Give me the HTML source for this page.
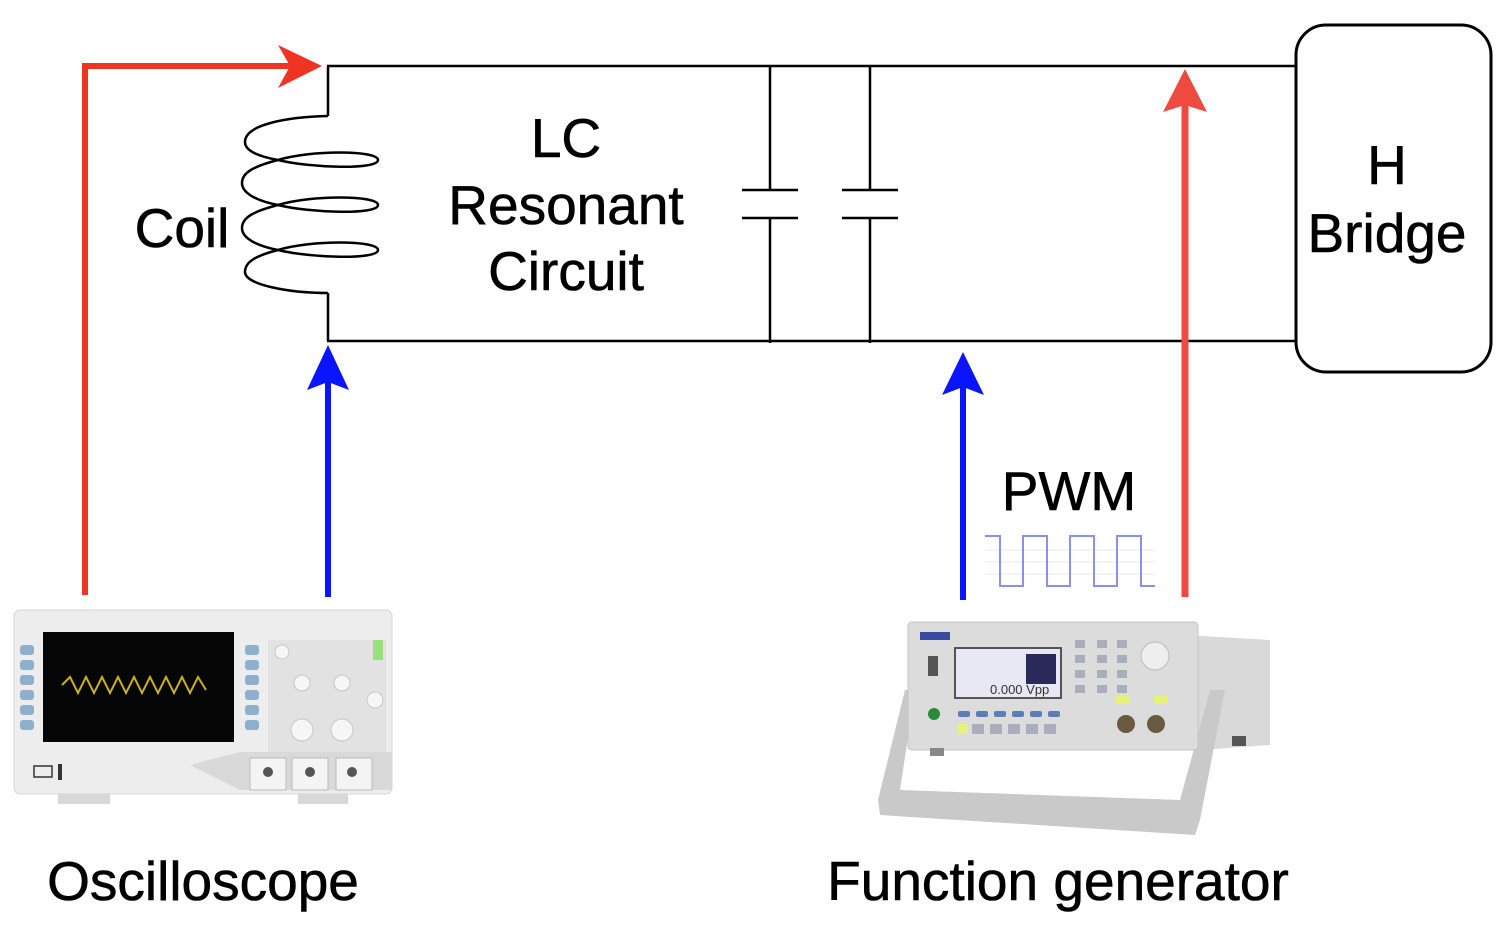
<!DOCTYPE html>
<html><head><meta charset="utf-8"><style>
html,body{margin:0;padding:0;background:#fff;}
svg{display:block;}
text{font-family:"Liberation Sans",Arial,sans-serif;fill:#000;}
</style></head><body>
<svg width="1504" height="925" viewBox="0 0 1504 925" xmlns="http://www.w3.org/2000/svg">
<g stroke="#000" stroke-width="2.5" fill="none">
<line x1="327" y1="66" x2="1296" y2="66"/>
<line x1="327" y1="341" x2="1296" y2="341"/>
<line x1="328" y1="66" x2="328" y2="116"/>
<line x1="328" y1="293" x2="328" y2="341"/>
<path d="M328,116 C285,117 245,125 245,142 C245,152 262,157 278,160 C310,168 378,170 378,160 C378,150 310,150 278,160 C255,166 242,172 242,183 C242,195 262,202 278,205 C310,213 378,215 378,205 C378,195 310,195 278,205 C255,211 242,217 242,228 C242,240 262,247 278,250 C310,258 378,260 378,250 C378,240 310,240 278,250 C255,256 245,262 245,272 C245,285 290,293 328,293"/>
<line x1="770" y1="66" x2="770" y2="190"/><line x1="742" y1="190" x2="798" y2="190"/>
<line x1="742" y1="218" x2="798" y2="218"/><line x1="770" y1="218" x2="770" y2="343"/>
<line x1="870" y1="66" x2="870" y2="190"/><line x1="842" y1="190" x2="898" y2="190"/>
<line x1="842" y1="218" x2="898" y2="218"/><line x1="870" y1="218" x2="870" y2="343"/>
<rect x="1296" y="25" width="195" height="347" rx="30" ry="30" stroke-width="3"/>
</g>
<polyline points="85,595 85,66 292,66" fill="none" stroke="#ee3524" stroke-width="6"/>
<polygon points="322,66 278,45 290,66 278,88" fill="#ee3524"/>
<line x1="1185" y1="597" x2="1185" y2="105" stroke="#ee4a40" stroke-width="7"/>
<polygon points="1185,69 1163,112 1185,105 1207,112" fill="#ee4a40"/>
<line x1="328" y1="597" x2="328" y2="380" stroke="#0a14ff" stroke-width="6"/>
<polygon points="328,345 307,390 328,382 349,390" fill="#0a14ff"/>
<line x1="963" y1="600" x2="963" y2="385" stroke="#0a14ff" stroke-width="6"/>
<polygon points="963,352 942,395 963,387 984,395" fill="#0a14ff"/>
<g stroke="#e8e8f0" stroke-width="1"><line x1="985" y1="550" x2="1155" y2="550"/><line x1="985" y1="562" x2="1155" y2="562"/><line x1="985" y1="574" x2="1155" y2="574"/></g>
<polyline points="985,536 1000,536 1000,586 1023,586 1023,536 1047,536 1047,586 1070,586 1070,536 1094,536 1094,586 1117,586 1117,536 1141,536 1141,586 1155,586" fill="none" stroke="#8a90f0" stroke-width="2"/>
<g font-size="55" text-anchor="middle" stroke="#000" stroke-width="0.6">
<text x="566" y="157">LC</text>
<text x="566" y="224">Resonant</text>
<text x="566" y="290">Circuit</text>
<text x="182" y="247">Coil</text>
<text x="1387" y="184">H</text>
<text x="1387" y="252">Bridge</text>
<text x="1069" y="510">PWM</text>
<text x="203" y="900">Oscilloscope</text>
<text x="1058" y="900">Function generator</text>
</g>
<rect x="58" y="790" width="52" height="14" fill="#d8d8d8"/>
<rect x="298" y="790" width="50" height="14" fill="#d8d8d8"/>
<rect x="14" y="610" width="378" height="184" rx="6" fill="#ededed" stroke="#d6d6d6"/>
<rect x="43" y="632" width="191" height="110" fill="#050505"/>
<polyline points="62,685 70,677 78,693 86,677 94,693 102,677 110,693 118,677 126,693 134,677 142,693 150,677 158,693 166,677 174,693 182,677 190,693 198,677 206,690" fill="none" stroke="#c9b11a" stroke-width="2"/>
<g fill="#8fb0cc"><rect x="20" y="645" width="14" height="10" rx="3"/><rect x="20" y="660" width="14" height="10" rx="3"/><rect x="20" y="675" width="14" height="10" rx="3"/><rect x="20" y="690" width="14" height="10" rx="3"/><rect x="20" y="705" width="14" height="10" rx="3"/><rect x="20" y="720" width="14" height="10" rx="3"/>
<rect x="245" y="645" width="14" height="10" rx="3"/><rect x="245" y="660" width="14" height="10" rx="3"/><rect x="245" y="675" width="14" height="10" rx="3"/><rect x="245" y="690" width="14" height="10" rx="3"/><rect x="245" y="705" width="14" height="10" rx="3"/><rect x="245" y="720" width="14" height="10" rx="3"/></g>
<rect x="268" y="640" width="118" height="112" fill="#e2e2e2"/>
<g fill="#f6f6f6" stroke="#c8c8c8"><circle cx="282" cy="652" r="7"/><circle cx="302" cy="683" r="8"/><circle cx="342" cy="683" r="8"/><circle cx="302" cy="730" r="11"/><circle cx="342" cy="730" r="11"/><circle cx="375" cy="700" r="8"/></g>
<rect x="373" y="640" width="10" height="20" fill="#9be07a"/>
<polygon points="190,765 240,752 392,752 392,790 240,790" fill="#d9d9d9"/>
<g fill="#f4f4f4" stroke="#bbb"><rect x="250" y="758" width="36" height="32"/><rect x="292" y="758" width="36" height="32"/><rect x="336" y="758" width="36" height="32"/></g>
<g fill="#555"><circle cx="268" cy="772" r="5"/><circle cx="310" cy="772" r="5"/><circle cx="352" cy="772" r="5"/></g>
<rect x="34" y="766" width="18" height="11" fill="none" stroke="#333" stroke-width="1.5"/>
<rect x="58" y="764" width="4" height="16" fill="#333"/>
<polygon points="1185,635 1270,640 1270,745 1200,750" fill="#d9d9d9"/>
<polygon points="905,690 878,800 880,815 1195,835 1200,820 1225,690 1210,690 1180,800 900,790 915,690" fill="#c9c9c9"/>
<rect x="908" y="622" width="290" height="128" rx="4" fill="#dcdcdc" stroke="#c4c4c4"/>
<rect x="920" y="632" width="30" height="8" fill="#3a4aa0"/>
<rect x="955" y="648" width="106" height="50" fill="#e8e8f4" stroke="#555" stroke-width="2"/>
<rect x="1026" y="654" width="30" height="30" fill="#2a2a5a"/>
<text x="990" y="694" font-size="13" style="fill:#333">0.000 Vpp</text>
<rect x="928" y="656" width="10" height="20" fill="#555"/>
<circle cx="934" cy="714" r="6" fill="#2a8a3a"/>
<g fill="#5a7fb0"><rect x="958" y="711" width="12" height="6" rx="2"/><rect x="976" y="711" width="12" height="6" rx="2"/><rect x="994" y="711" width="12" height="6" rx="2"/><rect x="1012" y="711" width="12" height="6" rx="2"/><rect x="1030" y="711" width="12" height="6" rx="2"/><rect x="1048" y="711" width="12" height="6" rx="2"/></g>
<g fill="#a8aebc"><rect x="972" y="724" width="12" height="10"/><rect x="990" y="724" width="12" height="10"/><rect x="1008" y="724" width="12" height="10"/><rect x="1026" y="724" width="12" height="10"/><rect x="1044" y="724" width="12" height="10"/>
<rect x="1075" y="640" width="10" height="8"/><rect x="1097" y="640" width="10" height="8"/><rect x="1117" y="640" width="10" height="8"/><rect x="1075" y="655" width="10" height="8"/><rect x="1097" y="655" width="10" height="8"/><rect x="1117" y="655" width="10" height="8"/><rect x="1075" y="670" width="10" height="8"/><rect x="1097" y="670" width="10" height="8"/><rect x="1117" y="670" width="10" height="8"/><rect x="1075" y="685" width="10" height="8"/><rect x="1097" y="685" width="10" height="8"/><rect x="1117" y="685" width="10" height="8"/></g>
<rect x="958" y="724" width="10" height="10" fill="#e6f27a"/>
<rect x="1116" y="696" width="14" height="8" fill="#e6f27a"/><rect x="1154" y="696" width="14" height="8" fill="#e6f27a"/>
<circle cx="1155" cy="656" r="14" fill="#eee" stroke="#bbb"/>
<circle cx="1126" cy="724" r="9" fill="#6a5a40"/><circle cx="1156" cy="724" r="9" fill="#6a5a40"/>
<rect x="1232" y="736" width="14" height="10" fill="#555"/><rect x="930" y="748" width="14" height="8" fill="#888"/>
</svg>
</body></html>
